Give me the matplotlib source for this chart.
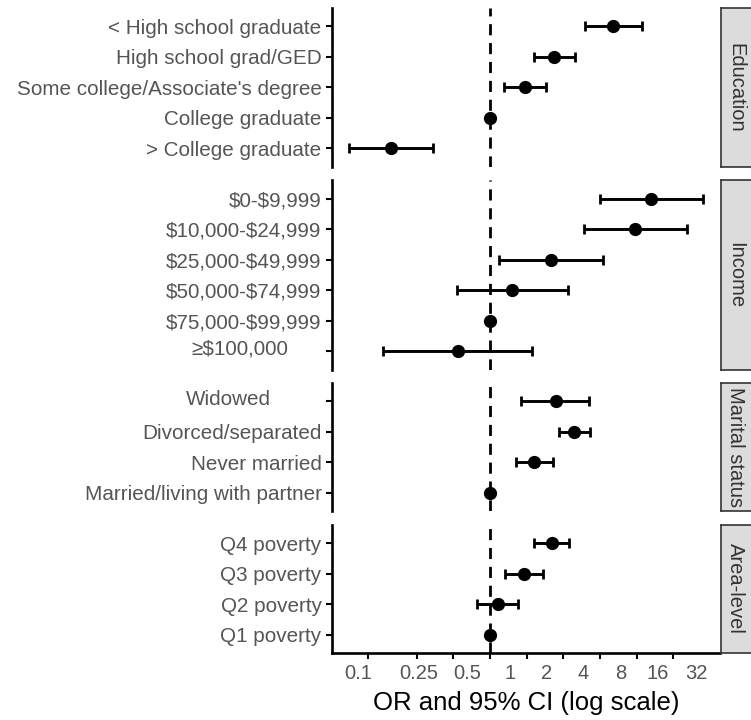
import matplotlib.pyplot as plt
import matplotlib.transforms as mtransforms

plt.rcParams['font.family'] = ['Liberation Sans', 'DejaVu Sans']
plt.rcParams['text.parse_math'] = False

# data (odds ratios and 95% CI)
groups = ["Education", "Income", "Marital status", "Area-level"]

edu_labels = ["< High school graduate", "High school grad/GED",
              "Some college/Associate's degree", "College graduate",
              "> College graduate"]
edu_or = [10.2, 3.35, 1.94, 1.0, 0.154]
edu_lo = [6.0, 2.29, 1.30, 1.0, 0.070]
edu_hi = [17.6, 4.98, 2.88, 1.0, 0.341]

inc_labels = ["$0-$9,999", "$10,000-$24,999", "$25,000-$49,999",
              "$50,000-$74,999", "$75,000-$99,999", "≥$100,000"]
inc_or = [20.9, 15.5, 3.16, 1.52, 1.0, 0.546]
inc_lo = [8.0, 5.9, 1.19, 0.536, 1.0, 0.132]
inc_hi = [55.8, 41.3, 8.45, 4.36, 1.0, 2.21]

mar_labels = ["Widowed", "Divorced/separated", "Never married",
              "Married/living with partner"]
mar_or = [3.48, 4.89, 2.30, 1.0]
mar_lo = [1.80, 3.68, 1.63, 1.0]
mar_hi = [6.49, 6.60, 3.29, 1.0]

area_labels = ["Q4 poverty", "Q3 poverty", "Q2 poverty", "Q1 poverty"]
area_or = [3.22, 1.90, 1.16, 1.0]
area_lo = [2.29, 1.33, 0.78, 1.0]
area_hi = [4.45, 2.72, 1.70, 1.0]

x_ticks = [0.1, 0.25, 0.5, 1, 2, 4, 8, 16, 32]
x_ticklabels = ["0.1", "0.25", "0.5", "1", "2", "4", "8", "16", "32"]

panels = [
    (edu_labels, edu_or, edu_lo, edu_hi),
    (inc_labels, inc_or, inc_lo, inc_hi),
    (mar_labels, mar_or, mar_lo, mar_hi),
    (area_labels, area_or, area_lo, area_hi),
]

# label nudges in pixels (as they appear in the original)
x_label_shift = [-10, 2, 14, 20, 20, 20, 21, 21, 23]
y_label_shift = {"Widowed": (-51, 4), "≥$100,000": (-33, 4)}

W, H, DPI = 751, 720, 100
fig = plt.figure(figsize=(W / DPI, H / DPI), dpi=DPI)

left, right, top, bottom, gap = 332, 720, 8, 653, 13.5
unit = (bottom - top - 3 * gap) / sum(len(p[0]) + 0.2 for p in panels)

grey = '#555555'
y0 = top
for i, (labels, orv, lo, hi) in enumerate(panels):
    n = len(labels)
    h = unit * (n + 0.2)
    ax = fig.add_axes([left / W, (H - y0 - h) / H, (right - left) / W, h / H])
    ys = list(range(n - 1, -1, -1))
    xerr = [[o - l for o, l in zip(orv, lo)], [u - o for o, u in zip(orv, hi)]]
    ax.axvline(1, color='black', lw=2.0, dashes=(4, 2.8), zorder=1)
    ax.errorbar(orv, ys, xerr=xerr, fmt='o', color='black', ms=8.5,
                elinewidth=2.1, capsize=3.6, capthick=2.0, zorder=3)
    ax.set_xscale('log')
    ax.set_xlim(0.0507, 77)
    ax.set_ylim(-0.6, n - 0.4)
    ax.set_yticks(ys)
    ax.set_yticklabels(labels, fontsize=14.9, color=grey)
    ax.tick_params(axis='y', length=4.5, width=1.5, pad=3, color='black')
    ax.minorticks_off()
    for s in ['top', 'right']:
        ax.spines[s].set_visible(False)
    ax.spines['left'].set_linewidth(1.9)
    for lab in ax.get_yticklabels():
        if lab.get_text() in y_label_shift:
            dx, dy = y_label_shift[lab.get_text()]
            off = mtransforms.ScaledTranslation(dx / DPI, dy / DPI, fig.dpi_scale_trans)
            lab.set_transform(lab.get_transform() + off)
    if i < len(panels) - 1:
        ax.spines['bottom'].set_visible(False)
        ax.tick_params(axis='x', which='both', bottom=False, labelbottom=False)
    else:
        ax.spines['bottom'].set_linewidth(1.9)
        ax.set_xticks(x_ticks)
        ax.set_xticklabels(x_ticklabels, fontsize=14.5, color=grey)
        ax.tick_params(axis='x', length=4.5, width=1.5, pad=3.5, color='black')
        ax.minorticks_off()
        for lab, dx in zip(ax.get_xticklabels(), x_label_shift):
            off = mtransforms.ScaledTranslation(dx / DPI, 0, fig.dpi_scale_trans)
            lab.set_transform(lab.get_transform() + off)
        ax.set_xlabel("OR and 95% CI (log scale)", fontsize=18.5, color='black', labelpad=6)

    # facet strip on the right
    sax = fig.add_axes([721 / W, (H - y0 - h) / H, 33 / W, h / H])
    sax.set_facecolor('#DCDCDC')
    sax.set_xticks([])
    sax.set_yticks([])
    for s in sax.spines.values():
        s.set_color('#333333')
        s.set_linewidth(1.2)
    sax.text(0.45, 0.5, groups[i], rotation=270, ha='center', va='center',
             fontsize=14.5, color='#333333', transform=sax.transAxes)

    y0 += h + gap

fig.savefig('out.png', dpi=DPI)
